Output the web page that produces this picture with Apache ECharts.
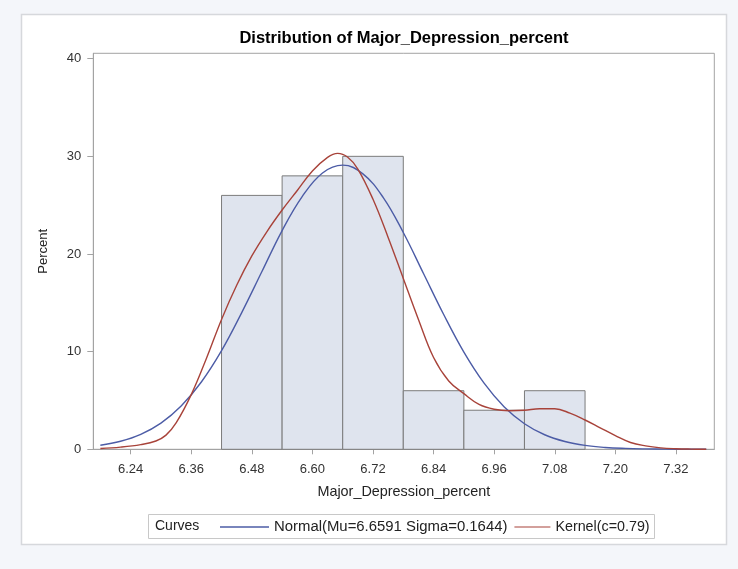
<!DOCTYPE html>
<html>
<head>
<meta charset="utf-8">
<script src="https://cdn.jsdelivr.net/npm/echarts@6/dist/echarts.min.js"></script>
<style>
  html, body { margin: 0; padding: 0; background: #f4f6fa; }
  #chart { width: 738px; height: 569px; }
</style>
</head>
<body>
<div id="chart"></div>
<script>
// Histogram bins (midpoints) and percentages
const binMid = [6.48, 6.60, 6.72, 6.84, 6.96, 7.08];
const binPct = [26, 28, 30, 6, 4, 6];
const binWidth = 0.12;

// Tick labels
const xTicks = [6.24, 6.36, 6.48, 6.60, 6.72, 6.84, 6.96, 7.08, 7.20, 7.32];
const yTicks = [0, 10, 20, 30, 40];

// Normal curve
const normalX = [6.18, 6.22, 6.26, 6.30, 6.34, 6.38, 6.42, 6.46, 6.50, 6.54, 6.58, 6.62, 6.66, 6.70, 6.74, 6.78, 6.82, 6.86, 6.90, 6.94, 6.98, 7.02, 7.06, 7.10, 7.14, 7.18, 7.22, 7.26, 7.30, 7.34, 7.38];
const normalY = [0.42, 0.82, 1.53, 2.68, 4.43, 6.89, 10.1, 14.0, 18.2, 22.4, 25.9, 28.3, 29.1, 28.2, 25.8, 22.2, 18.0, 13.8, 9.95, 6.77, 4.33, 2.62, 1.49, 0.80, 0.40, 0.19, 0.09, 0.04, 0.015, 0.005, 0.002];

// Kernel curve
const kernelX = [6.18, 6.22, 6.26, 6.29, 6.31, 6.33, 6.36, 6.39, 6.42, 6.45, 6.48, 6.51, 6.54, 6.57, 6.60, 6.63, 6.65, 6.67, 6.69, 6.72, 6.75, 6.78, 6.81, 6.84, 6.87, 6.90, 6.93, 6.96, 6.99, 7.02, 7.05, 7.08, 7.11, 7.14, 7.17, 7.20, 7.23, 7.26, 7.29, 7.32, 7.35, 7.38];
const kernelY = [0.08, 0.22, 0.48, 0.85, 1.45, 2.7, 5.6, 9.3, 13.3, 16.8, 19.8, 22.3, 24.5, 26.5, 28.5, 29.9, 30.3, 29.9, 28.7, 25.6, 21.7, 17.5, 13.3, 9.4, 7.0, 5.7, 4.6, 4.1, 3.95, 4.0, 4.15, 4.15, 3.7, 3.0, 2.2, 1.4, 0.7, 0.35, 0.15, 0.06, 0.02, 0.0];

const FONT = '"Liberation Sans", Arial, sans-serif';
const chart = echarts.init(document.getElementById('chart'));

const histData = binMid.map((m, i) => [m, binPct[i]]);
const normalData = normalX.map((x, i) => [x, normalY[i]]);
const kernelData = kernelX.map((x, i) => [x, kernelY[i]]);

chart.setOption({
  backgroundColor: '#f4f6fa',
  animation: false,
  title: {
    text: 'Distribution of Major_Depression_percent',
    left: 399,
    top: 25,
    textAlign: 'center',
    textStyle: { fontFamily: FONT, fontSize: 16.5, fontWeight: 'bold', color: '#000' }
  },
  graphic: [
    { type: 'rect', z: -10, shape: { x: 21.5, y: 14.5, width: 705, height: 530 },
      style: { fill: '#ffffff', stroke: '#d6d8dc', lineWidth: 1.5 } },
    { type: 'rect', z: -5, shape: { x: 148.5, y: 514.5, width: 506, height: 24 },
      style: { fill: '#ffffff', stroke: '#c8c8c8', lineWidth: 1 } },
    { type: 'text', left: 155, top: 519.5,
      style: { text: 'Curves', fontFamily: FONT, fontSize: 14, fill: '#222' } }
  ],
  legend: {
    left: 215,
    top: 514.5,
    itemWidth: 49,
    itemHeight: 1.6,
    itemGap: -6,
    textStyle: { fontFamily: FONT, fontSize: 14.9, color: '#222' },
    data: [
      { name: 'Normal(Mu=6.6591 Sigma=0.1644)', icon: 'rect', itemStyle: { borderWidth: 0 } },
      { name: 'Kernel(c=0.79)', icon: 'path://M0,0L0,1M13,0H49V1H13Z', itemStyle: { borderWidth: 0 },
        textStyle: { fontSize: 14.3 } }
    ]
  },
  grid: {
    left: 93.3, right: 23.7, top: 53.3, bottom: 119.7,
    show: true, borderColor: '#a3a3a3', borderWidth: 1, backgroundColor: '#ffffff'
  },
  xAxis: {
    type: 'value',
    min: 6.166, max: 7.396,
    name: 'Major_Depression_percent',
    nameLocation: 'middle',
    nameGap: 36,
    nameTextStyle: { fontFamily: FONT, fontSize: 14.4, color: '#222' },
    splitLine: { show: false },
    axisLine: { show: true, lineStyle: { color: '#a3a3a3' } },
    axisTick: { show: true, length: 5, customValues: xTicks, lineStyle: { color: '#a3a3a3' } },
    axisLabel: { customValues: xTicks, margin: 14, fontFamily: FONT, fontSize: 13, color: '#333',
      formatter: v => v.toFixed(2) }
  },
  yAxis: {
    type: 'value',
    min: 0, max: 40.55,
    name: 'Percent',
    nameLocation: 'middle',
    nameGap: 43,
    nameTextStyle: { fontFamily: FONT, fontSize: 13, color: '#222' },
    splitLine: { show: false },
    axisLine: { show: true, lineStyle: { color: '#a3a3a3' } },
    axisTick: { show: true, length: 6, customValues: yTicks, lineStyle: { color: '#a3a3a3' } },
    axisLabel: { customValues: yTicks, margin: 12, fontFamily: FONT, fontSize: 13, color: '#333' }
  },
  series: [
    {
      type: 'custom',
      name: 'Histogram',
      data: histData,
      renderItem: function (params, api) {
        const x = api.value(0), y = api.value(1);
        const p0 = api.coord([x - binWidth / 2, 0]);
        const p1 = api.coord([x + binWidth / 2, y]);
        return {
          type: 'rect',
          shape: { x: p0[0], y: p1[1], width: p1[0] - p0[0], height: p0[1] - p1[1] },
          style: { fill: '#dfe4ee', stroke: '#7b7b7b', lineWidth: 1 }
        };
      },
      z: 1
    },
    {
      type: 'line',
      name: 'Normal(Mu=6.6591 Sigma=0.1644)',
      data: normalData,
      smooth: 0.4,
      symbol: 'none',
      showSymbol: false,
      color: '#4c5ca6',
      lineStyle: { color: '#4c5ca6', width: 1.4 },
      z: 3
    },
    {
      type: 'line',
      name: 'Kernel(c=0.79)',
      data: kernelData,
      smooth: 0.4,
      symbol: 'none',
      showSymbol: false,
      color: '#a8433a',
      lineStyle: { color: '#a8433a', width: 1.4 },
      z: 4
    }
  ]
});
</script>
</body>
</html>
